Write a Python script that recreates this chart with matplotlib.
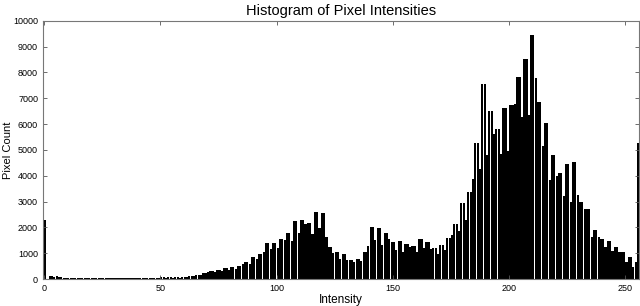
import matplotlib
matplotlib.use("Agg")
import matplotlib.pyplot as plt
import numpy as np

plt.rcParams['font.family'] = ['Liberation Sans', 'DejaVu Sans']

# first bins, read one by one
HEAD = [2300, 20, 110, 120, 90, 100, 70, 80, 60, 50, 50,
        45, 45, 40, 45, 40, 40, 45, 40, 40, 40, 45, 40, 40, 45, 40, 40,
        45, 40, 40, 45, 40, 45, 50, 45, 40, 50, 45, 45, 50, 50, 45, 50,
        55, 50, 50, 55]

# the rest come in groups of 3 bins (left height A, right height B)
BLOCK_A = [60, 70, 65, 70, 90, 115, 155, 220, 320, 350,
           410, 480, 500, 670, 860, 970, 1380, 1380,
           1540, 1790, 2260, 2280, 2180, 2610, 2540, 1230,
           1030, 970, 740, 760, 1060, 2000, 1960, 1770,
           1450, 1480, 1340, 1280, 1550, 1450, 1210, 1320,
           1600, 2150, 2930, 3380, 5250, 7550, 6500, 5800,
           6640, 6740, 7830, 8540, 9450, 6860, 6030, 4800,
           4090, 4450, 4540, 3000, 2700, 1900, 1540, 1470,
           1250, 1030, 860]
BLOCK_B = [55, 60, 60, 60, 85, 110, 150, 260, 280, 330,
           350, 390, 570, 570, 760, 1060, 1150, 1190,
           1510, 1480, 1770, 2130, 1740, 1960, 1610, 1020,
           760, 740, 670, 700, 1290, 1510, 1320, 1540,
           1120, 1060, 1250, 1060, 1210, 1170, 970, 1120,
           1700, 1860, 2300, 3870, 4250, 4800, 5600, 4860,
           4950, 6770, 6260, 6350, 7770, 5160, 3830, 4000,
           3210, 3000, 3250, 2700, 1610, 1610, 1250, 1100,
           1060, 670, 480]
TAIL = [670, 5280]

counts = list(HEAD)
for a, b in zip(BLOCK_A, BLOCK_B):
    counts += [a, a, b]
counts += TAIL
counts = np.array(counts[:256])
bins = np.arange(len(counts))

fig = plt.figure(figsize=(6.4, 3.06), dpi=100)
ax = fig.add_axes([0.067, 0.088, 0.932, 0.844])
ax.bar(bins, counts, width=0.9, align='edge', color='black', linewidth=0, antialiased=False)

ax.set_xlim(-0.5, 256)
ax.set_ylim(0, 10000)
ax.set_xticks(np.arange(0, 251, 50))
ax.set_yticks(np.arange(0, 10001, 1000))
ax.tick_params(direction='in', top=True, right=True, labelsize=6.5, length=3, width=0.6, color='#555555')
for s in ax.spines.values():
    s.set_color('#777777')
    s.set_linewidth(0.8)

ax.set_title("Histogram of Pixel Intensities", fontsize=10.5, pad=4)
ax.set_xlabel("Intensity", fontsize=8.5, labelpad=1)
ax.set_ylabel("Pixel Count", fontsize=8)
ax.yaxis.set_label_coords(-0.05, 0.5)

fig.savefig("out.png", dpi=100)
